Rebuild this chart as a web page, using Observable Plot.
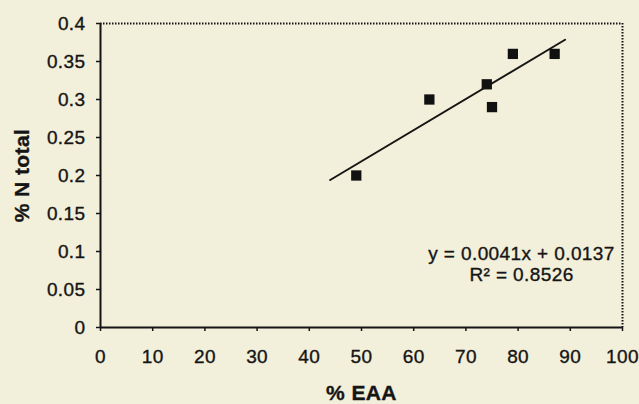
<!DOCTYPE html>
<html><head><meta charset="utf-8">
<script src="https://cdn.jsdelivr.net/npm/d3@7"></script>
<script src="https://cdn.jsdelivr.net/npm/@observablehq/plot@0.6"></script>
<style>
html,body{margin:0;padding:0;background:#f2efda;}
#chart svg{display:block;background:#f2efda;font-family:"Liberation Sans",Arial,sans-serif;letter-spacing:0.4px;color:#151515;}
#chart svg text{stroke:#151515;stroke-width:0.35px;}
</style></head><body><div id="chart"></div>
<script>
const eaa = [49, 63, 74, 75, 79, 87];
const nTotal = [0.20, 0.30, 0.32, 0.29, 0.36, 0.36];
const trendX = [44, 89];
const slope = 0.0041, intercept = 0.0137;
const xTicks = [0, 10, 20, 30, 40, 50, 60, 70, 80, 90, 100];
const yTicks = [0, 0.05, 0.1, 0.15, 0.2, 0.25, 0.3, 0.35, 0.4];
const equationLines = ["y = 0.0041x + 0.0137", "R² = 0.8526"];
const xTitle = "% EAA";
const yTitle = "% N total";

const points = eaa.map((x, i) => ({x, y: nTotal[i]}));
const trend = trendX.map(x => ({x, y: slope * x + intercept}));

const chart = Plot.plot({
  width: 639, height: 404,
  marginTop: 23, marginBottom: 77, marginLeft: 100, marginRight: 17,
  x: {domain: [0, 100]},
  y: {domain: [0, 0.4]},
  marks: [
    Plot.ruleY([0.4], {stroke: "#151515", strokeWidth: 2, strokeDasharray: "1.5,1.5"}),
    Plot.ruleX([100], {stroke: "#151515", strokeWidth: 2, strokeDasharray: "1.5,1.5"}),
    Plot.axisY({ticks: yTicks, tickFormat: d => String(d), tickSize: 4, tickPadding: 11, fontSize: 19, label: null, strokeWidth: 1.5}),
    Plot.axisX({ticks: xTicks, tickFormat: d => String(d), tickSize: 4, tickPadding: 18, fontSize: 19, label: null, strokeWidth: 1.5}),
    Plot.ruleX([0], {stroke: "#151515", strokeWidth: 2}),
    Plot.ruleY([0], {stroke: "#151515", strokeWidth: 2}),
    Plot.line(trend, {x: "x", y: "y", stroke: "#151515", strokeWidth: 2}),
    Plot.dot(points, {x: "x", y: "y", symbol: "square", r: 5.8, fill: "#111", stroke: null}),
    Plot.text([equationLines.join("\n")], {text: d => d, frameAnchor: "bottom-right", dx: -101, dy: -47, textAnchor: "middle", lineAnchor: "bottom", lineHeight: 1.1, fontSize: 19, fill: "#151515"}),
    Plot.text([xTitle], {text: d => d, frameAnchor: "bottom", dy: 66, lineAnchor: "middle", fontSize: 21, fontWeight: "bold", fill: "#151515"}),
    Plot.text([yTitle], {text: d => d, frameAnchor: "left", dx: -78, rotate: -90, lineAnchor: "middle", textAnchor: "middle", fontSize: 21, fontWeight: "bold", fill: "#151515"})
  ]
});
document.getElementById("chart").appendChild(chart);
</script></body></html>
